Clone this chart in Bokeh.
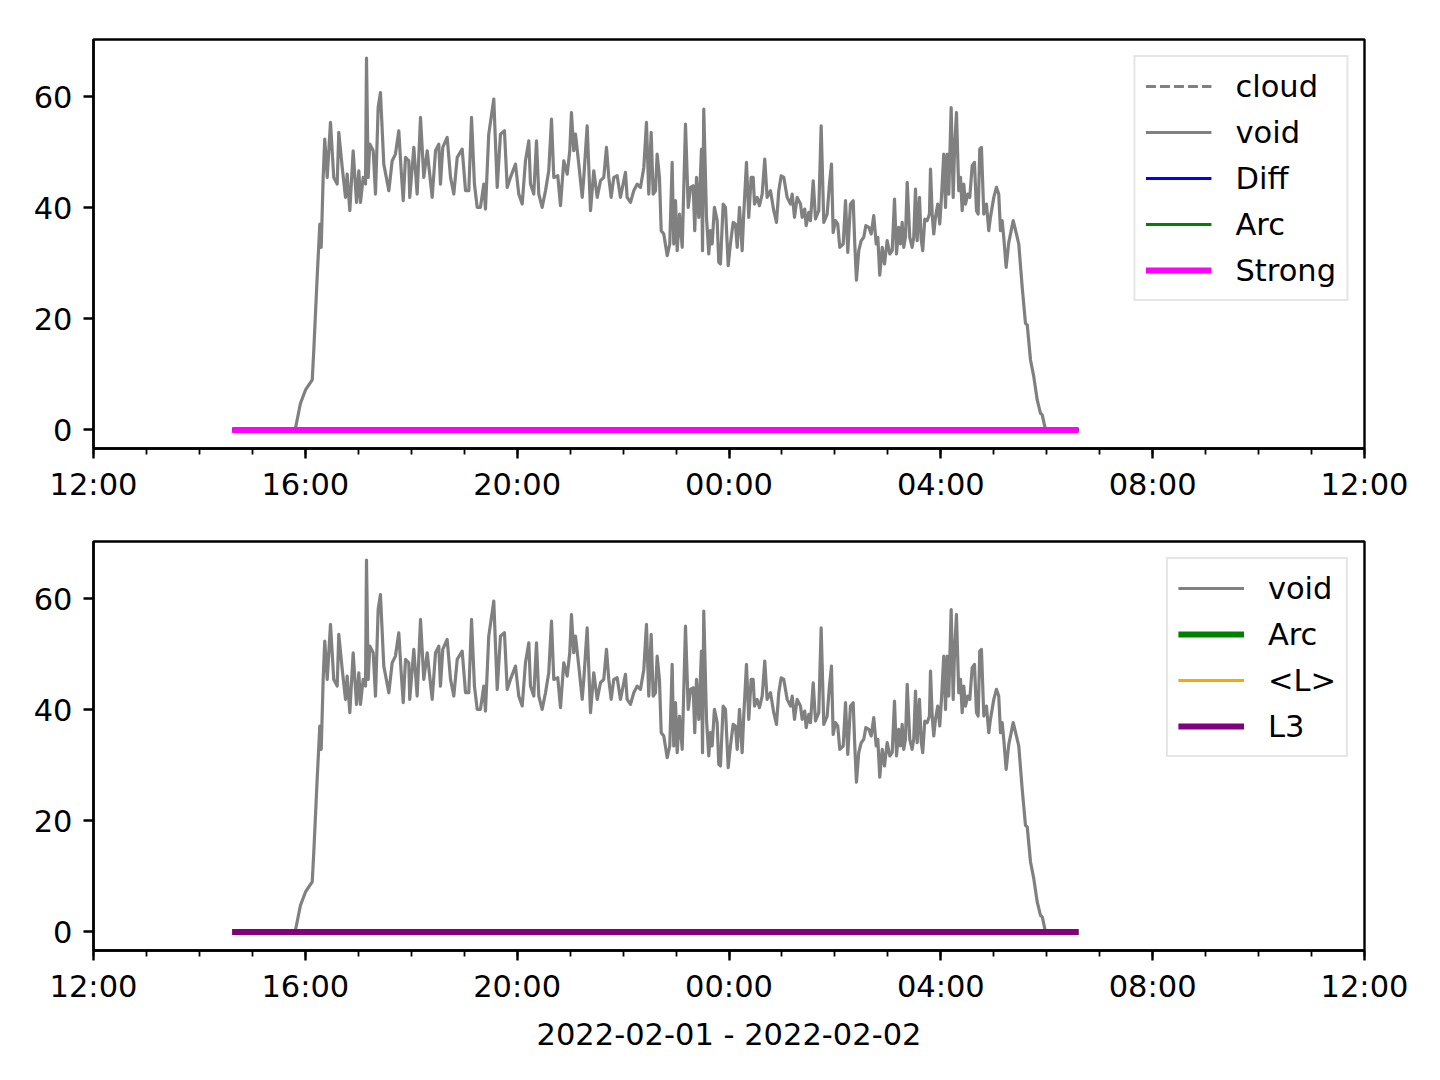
import pandas as pd
from bokeh.plotting import figure
from bokeh.layouts import column
from bokeh.models import Range1d, FixedTicker, DatetimeTickFormatter
from bokeh.embed import file_html
from bokeh.resources import INLINE

# ---------------- data ----------------
# sample times in minutes after 2022-02-01 12:00, and the "void" values
t0 = "2022-02-01 12:00"
void_minutes = [
    157.1, 225.5, 228.8, 234.5, 240.2, 247.8, 249.6, 253.4, 256.4, 258.0,
    260.2, 262.0, 264.8, 268.5, 272.2, 276.1, 277.9, 281.8, 285.5, 287.4,
    290.4, 294.2, 298.0, 300.6, 302.5, 305.5, 308.2, 309.3, 311.2, 313.0,
    316.9, 319.5, 322.5, 325.1, 328.9, 334.6, 338.4, 342.1, 345.9, 348.6,
    350.9, 353.5, 357.2, 358.3, 362.9, 366.7, 370.5, 374.2, 378.1, 383.7,
    387.5, 391.2, 393.1, 395.7, 400.7, 404.5, 408.2, 412.1, 417.7, 421.5,
    425.2, 428.3, 431.6, 434.7, 438.4, 442.2, 444.1, 447.8, 453.5, 457.4,
    461.1, 465.6, 468.7, 472.4, 478.1, 481.8, 485.7, 489.4, 493.2, 495.1,
    498.8, 501.9, 504.5, 508.3, 512.1, 515.8, 518.9, 521.5, 526.0, 529.1,
    532.8, 536.7, 539.6, 541.5, 544.1, 546.1, 549.8, 553.7, 555.5, 559.3,
    563.1, 566.8, 570.7, 574.4, 578.1, 581.2, 583.8, 586.5, 589.5, 593.3,
    597.0, 602.7, 604.6, 608.4, 612.1, 616.0, 619.7, 623.5, 626.5, 629.1,
    631.8, 634.1, 636.7, 638.6, 641.2, 643.2, 646.1, 650.0, 652.9, 655.6,
    657.4, 659.4, 661.3, 663.9, 667.0, 670.7, 673.8, 676.4, 679.4, 681.2,
    683.2, 685.8, 688.8, 690.0, 691.4, 694.5, 697.1, 699.0, 700.9, 703.5,
    706.6, 708.4, 710.3, 713.4, 716.0, 719.1, 721.6, 724.7, 727.3, 729.3,
    731.9, 734.9, 736.7, 739.8, 742.4, 745.1, 747.4, 748.9, 751.9, 754.5,
    757.6, 760.5, 763.2, 767.0, 770.7, 773.8, 776.4, 779.1, 782.1, 785.9,
    789.7, 791.6, 794.2, 797.2, 801.0, 802.9, 805.8, 807.4, 810.4, 812.3,
    815.4, 818.0, 821.7, 824.4, 827.4, 831.2, 833.8, 836.1, 838.0, 840.6,
    843.2, 845.5, 849.4, 852.0, 854.6, 857.6, 860.7, 862.5, 864.4, 867.0,
    869.8, 872.7, 875.0, 878.4, 881.1, 884.0, 886.8, 888.6, 890.8, 893.6,
    896.2, 899.2, 902.2, 904.9, 907.5, 909.8, 912.3, 914.3, 916.2, 918.0,
    919.9, 921.9, 924.8, 927.5, 929.3, 931.3, 933.2, 935.8, 937.7, 939.5,
    941.8, 944.5, 947.1, 948.3, 950.2, 952.0, 953.9, 956.5, 958.8, 960.7,
    963.3, 965.3, 967.2, 969.0, 971.7, 974.0, 975.5, 977.7, 980.3, 982.3,
    984.2, 986.0, 987.9, 990.5, 992.8, 995.5, 998.1, 1000.4, 1002.3, 1004.1,
    1006.0, 1008.7, 1011.7, 1014.3, 1016.2, 1020.0, 1023.0, 1025.6, 1027.6, 1029.5,
    1031.3, 1034.0, 1037.0, 1042.0, 1045.7, 1048.3, 1052.2, 1055.9, 1057.9, 1061.6,
    1065.3, 1069.2, 1072.9, 1074.9, 1078.6, 1116.0,
]
void = [
    0, 0, 0.3, 4.8, 7.2, 9, 14.4, 27.5, 37.1, 32.9,
    45.5, 52.4, 45.5, 55.4, 45.5, 44.3, 53.6, 47.3, 41.9, 46.1,
    39.5, 50.3, 41, 46.7, 41, 45.5, 44.3, 67, 45.5, 51.5,
    50.3, 42.5, 58.1, 60.8, 47.9, 43.1, 48.5, 49.7, 53.9, 46.7,
    41.3, 49.1, 48.5, 41.9, 50.9, 42.5, 56.3, 45.5, 50.3, 41.9,
    50.3, 51.5, 44.3, 50.9, 52.7, 45.5, 42.5, 49.1, 50.6, 43.1,
    43.1, 56.3, 44.3, 40.1, 40.1, 44.3, 39.8, 53.3, 59.6, 43.7,
    53.3, 53.9, 43.7, 45.5, 47.9, 42.5, 40.7, 48.5, 52.1, 44.3,
    42.5, 52.1, 42.5, 40.1, 43.1, 46.7, 56, 45.5, 45.8, 40.4,
    48.5, 46.1, 50.3, 57.2, 50.3, 53.3, 47.9, 41.9, 45.5, 54.8,
    39.5, 46.7, 41.9, 44.9, 45.5, 50.9, 45.5, 41.9, 45.5, 45.8,
    41.9, 46.4, 41.9, 41, 43.1, 44.3, 43.7, 47.3, 55.4, 42.5,
    53.6, 42.5, 43.1, 49.7, 45.5, 35.9, 35.3, 31.4, 33.5, 48.2,
    33.5, 41.3, 32.3, 38.9, 32.9, 55.1, 40.1, 43.7, 44, 35.9,
    45.5, 38.3, 50.6, 32.3, 57.8, 38.3, 31.7, 35.9, 33.5, 40.1,
    37.7, 30.2, 29.9, 40.7, 40.1, 29.6, 33.5, 37.4, 37.1, 32.9,
    40.1, 32.3, 38.9, 48.2, 38.3, 45.5, 45.5, 40.7, 41.9, 40.4,
    42.5, 48.8, 41.9, 43.1, 39.5, 37.4, 43.1, 45.8, 45.5, 41.9,
    40.7, 42.5, 38.3, 41.9, 40.7, 38.3, 39.8, 36.8, 39.2, 37.7,
    44.9, 38, 39.5, 54.8, 37.4, 38.9, 44.3, 47.9, 35.6, 37.7,
    37.1, 32.9, 33.5, 41.3, 32, 40.7, 41.3, 33.5, 27, 32.3,
    34.1, 34.7, 36.8, 36.5, 35.3, 38.6, 33.5, 34.7, 27.9, 32.9,
    29.9, 34.1, 31.7, 32.3, 41.6, 31.7, 36.5, 33.5, 37.4, 32.9,
    34.7, 44.6, 34.7, 32.9, 34.7, 43.4, 34.1, 41.9, 34.4, 32.3,
    38, 37.7, 38.9, 47, 38.9, 35.3, 38.3, 40.7, 37.1, 41.9,
    49.7, 40.1, 49.7, 42.5, 58.1, 41.9, 50.3, 57.2, 43.1, 45.5,
    39.5, 44.3, 40.7, 42.5, 41.9, 47.6, 48.2, 39.5, 38.9, 50.6,
    50.9, 38.9, 40.7, 35.9, 38.3, 41.9, 43.7, 42.5, 35.9, 37.7,
    34.7, 29.3, 33.8, 37.7, 35.3, 33.5, 25.7, 19.2, 18.9, 12.6,
    9.6, 5.4, 3, 2.7, 0, 0,
]
n = len(void)
cloud = [0.0] * n
diff = [0.0] * n
arc = [0.0] * n
strong = [0.0] * n
mean_l = [0.0] * n
l3 = [0.0] * n

x_start = "2022-02-01 12:00"
x_end = "2022-02-02 12:00"
y_ticks = [0, 20, 40, 60]
y_limits = (-3.35, 70.35)
x_label = "2022-02-01 - 2022-02-02"

times = pd.Timestamp(t0) + pd.to_timedelta(void_minutes, unit="min")
major = pd.date_range(x_start, x_end, freq="4h")
minor = pd.date_range(x_start, x_end, freq="1h")
major_ms = [t.value / 1e6 for t in major]
minor_ms = [t.value / 1e6 for t in minor]

FONT = "DejaVu Sans"
FS = "30.5px"
THIN = 3.2
THICK = 6.0


def make_fig(height, top, bottom):
    p = figure(width=1428, height=height, x_axis_type="datetime",
               x_range=Range1d(pd.Timestamp(x_start), pd.Timestamp(x_end)),
               y_range=Range1d(*y_limits),
               output_backend="svg", toolbar_location=None,
               min_border_left=93, min_border_right=64,
               min_border_top=top, min_border_bottom=bottom)
    p.xgrid.visible = False
    p.ygrid.visible = False
    p.outline_line_color = "black"
    p.outline_line_width = 2.4
    p.background_fill_color = "white"
    p.border_fill_color = "white"
    p.xaxis.ticker = FixedTicker(ticks=major_ms, minor_ticks=minor_ms)
    p.xaxis.formatter = DatetimeTickFormatter(hours="%H:%M", days="%H:%M",
                                              minutes="%H:%M", hourmin="%H:%M")
    p.yaxis.ticker = FixedTicker(ticks=y_ticks, minor_ticks=[])
    for ax in (p.xaxis[0], p.yaxis[0]):
        ax.axis_line_width = 2.4
        ax.axis_line_color = "black"
        ax.major_tick_line_width = 2.4
        ax.major_tick_line_color = "black"
        ax.major_tick_out = 10
        ax.major_tick_in = 0
        ax.minor_tick_line_width = 1.8
        ax.minor_tick_line_color = "black"
        ax.minor_tick_out = 6
        ax.minor_tick_in = 0
        ax.major_label_text_font = FONT
        ax.major_label_text_font_size = FS
        ax.major_label_text_color = "black"
        ax.major_label_standoff = 8
    p.yaxis[0].major_label_standoff = 11
    return p


def style_legend(p):
    lg = p.legend[0]
    lg.location = "top_right"
    lg.label_text_font = FONT
    lg.label_text_font_size = FS
    lg.label_text_color = "black"
    lg.glyph_width = 66
    lg.glyph_height = 38
    lg.label_height = 38
    lg.spacing = 8
    lg.padding = 10
    lg.margin = 16
    lg.label_standoff = 24
    lg.border_line_color = "#cccccc"
    lg.border_line_width = 2.8
    lg.background_fill_color = "white"
    lg.background_fill_alpha = 1.0


# ---------------- top panel ----------------
p1 = make_fig(508, 39, 60)
p1.line(times, cloud, color="gray", line_width=THIN, line_dash="10 4", legend_label="cloud")
p1.line(times, void, color="gray", line_width=THIN, line_join="round", legend_label="void")
p1.line(times, diff, color="blue", line_width=THIN, legend_label="Diff")
p1.line(times, arc, color="green", line_width=THIN, legend_label="Arc")
p1.line(times, strong, color="magenta", line_width=THICK, legend_label="Strong")
style_legend(p1)

# ---------------- bottom panel ----------------
p2 = make_fig(552, 33, 110)
p2.line(times, void, color="gray", line_width=THIN, line_join="round", legend_label="void")
p2.line(times, arc, color="green", line_width=THICK, legend_label="Arc")
p2.line(times, mean_l, color="orange", line_width=THIN, legend_label="<L>")
p2.line(times, l3, color="purple", line_width=THICK, legend_label="L3")
style_legend(p2)
p2.xaxis.axis_label = x_label
p2.xaxis.axis_label_text_font = FONT
p2.xaxis.axis_label_text_font_size = FS
p2.xaxis.axis_label_text_font_style = "normal"
p2.xaxis.axis_label_text_color = "black"
p2.xaxis.axis_label_standoff = 10

layout = column(p1, p2)
open("out.html", "w").write(file_html(layout, INLINE))
